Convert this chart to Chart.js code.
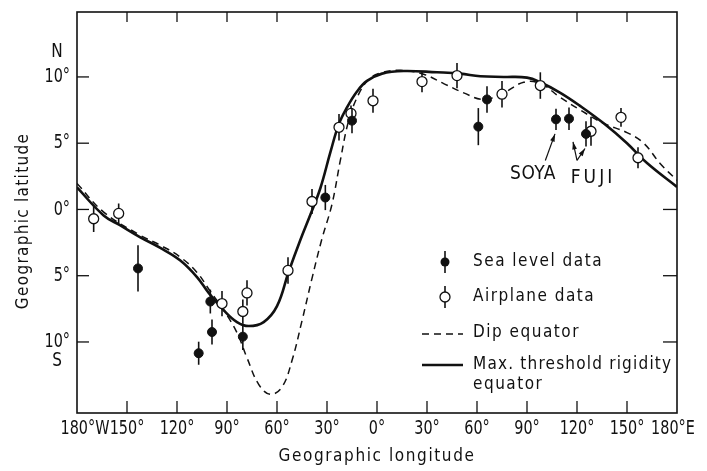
<!DOCTYPE html>
<html>
<head>
<meta charset="utf-8">
<script src="https://cdn.jsdelivr.net/npm/chart.js@4/dist/chart.umd.min.js"></script>
<style>
html, body { margin: 0; padding: 0; background: #fff; }
</style>
</head>
<body>
<canvas id="myChart" width="707" height="471"></canvas>
<script>
// longitude: west negative, east positive; latitude: north positive
const xTicks = [-180, -150, -120, -90, -60, -30, 0, 30, 60, 90, 120, 150, 180];
const xTickLabels = ['180°W', '150°', '120°', '90°', '60°', '30°', '0°', '30°', '60°', '90°', '120°', '150°', '180°E'];
const yTicks = [10, 5, 0, -5, -10];
const yTickLabels = ['10°', '5°', '0°', '5°', '10°'];

// sea level stations (filled circles)
const seaLon = [-143.4, -107, -100, -99, -80.5, -31, -15, 60.8, 66, 107.4, 115.2, 125.4];
const seaLat = [-4.45, -10.85, -6.95, -9.25, -9.6, 0.9, 6.7, 6.25, 8.3, 6.8, 6.85, 5.7];
const seaErr = [1.75, 0.87, 0.9, 0.95, 1.0, 0.95, 0.95, 1.4, 1.0, 0.8, 0.85, 0.95];

// airplane data (open circles)
const airLon = [-170, -155, -93, -80.5, -78, -53.4, -39, -22.8, -15.6, -2.4, 27, 48, 75, 98, 128.4, 146.4, 156.6];
const airLat = [-0.7, -0.3, -7.1, -7.7, -6.3, -4.6, 0.6, 6.2, 7.25, 8.2, 9.65, 10.1, 8.7, 9.35, 5.9, 6.95, 3.9];
const airErr = [1.0, 0.75, 0.95, 0.9, 0.95, 1.0, 0.95, 1.0, 0.6, 0.9, 0.8, 0.95, 1.0, 1.0, 1.1, 0.7, 0.8];

// dip equator (dashed)
const dipLon = [-180, -164, -142, -130, -118, -108, -101, -92, -84, -78, -71, -64, -57, -51, -45, -39, -33, -27, -22, -17, -11, -5, 2, 14, 28, 40, 52, 64, 76, 88, 98, 110, 122, 136, 150, 160, 170, 180];
const dipLat = [1.96, -0.2, -1.95, -2.7, -3.6, -4.75, -6.0, -7.6, -9.3, -11.2, -13.2, -13.95, -13.4, -11.4, -8.4, -5.2, -2.2, 0.4, 3.7, 6.7, 8.7, 9.8, 10.3, 10.5, 10.2, 9.5, 8.8, 8.3, 8.8, 9.6, 9.5, 8.45, 7.5, 6.5, 5.8, 5.0, 3.45, 2.2];

// max. threshold rigidity equator (solid)
const rigLon = [-180, -164, -154, -142, -130, -118, -108, -101, -92, -84, -77, -68, -60, -53, -46, -40, -34, -28, -23, -18, -12, -6, 3, 16, 36, 50, 62, 76, 90, 98, 110, 122, 136, 150, 162, 180];
const rigLat = [1.66, -0.45, -1.2, -2.1, -2.9, -3.85, -5.1, -6.3, -7.6, -8.5, -8.8, -8.5, -7.3, -4.7, -2.3, -0.4, 1.6, 4.3, 6.4, 7.7, 8.9, 9.7, 10.25, 10.45, 10.35, 10.25, 10.05, 10.0, 9.95, 9.6, 8.8, 7.8, 6.5, 5.0, 3.5, 1.7];

const INK = '#111';
const TICK_FONT = '20px "DejaVu Sans Condensed", "DejaVu Sans", sans-serif';
const TEXT_FONT = '17px "DejaVu Sans Condensed", "DejaVu Sans", sans-serif';

const toPoints = (xs, ys) => xs.map((v, i) => ({ x: v, y: ys[i] }));

function line(ctx, x1, y1, x2, y2) {
    ctx.beginPath();
    ctx.moveTo(x1, y1);
    ctx.lineTo(x2, y2);
    ctx.stroke();
}

function arrow(ctx, x1, y1, x2, y2) {
    line(ctx, x1, y1, x2, y2);
    const a = Math.atan2(y2 - y1, x2 - x1);
    ctx.beginPath();
    ctx.moveTo(x2, y2);
    ctx.lineTo(x2 - 8 * Math.cos(a - 0.3), y2 - 8 * Math.sin(a - 0.3));
    ctx.lineTo(x2 - 8 * Math.cos(a + 0.3), y2 - 8 * Math.sin(a + 0.3));
    ctx.closePath();
    ctx.fill();
}

// text with optional letter spacing and horizontal squeeze
function text(ctx, s, x, y, align, spacing, sx) {
    ctx.save();
    ctx.letterSpacing = (spacing || 0) + 'px';
    ctx.textAlign = align;
    ctx.translate(x, y);
    ctx.scale(sx || 1, 1);
    ctx.fillText(s, 0, 0);
    ctx.restore();
}

// vertical error bars, drawn under each marker set
const errorBars = {
    id: 'errorBars',
    beforeDatasetDraw(chart, args) {
        const ds = chart.data.datasets[args.index];
        if (!ds.err) return;
        const { ctx, scales: { x, y } } = chart;
        ctx.save();
        ctx.strokeStyle = INK;
        ctx.lineWidth = 1.6;
        ds.data.forEach((p, i) => {
            const px = x.getPixelForValue(p.x);
            line(ctx, px, y.getPixelForValue(p.y + ds.err[i]), px, y.getPixelForValue(p.y - ds.err[i]));
        });
        ctx.restore();
    }
};

// frame, inward ticks, labels, legend and notes
const frame = {
    id: 'frame',
    afterDraw(chart) {
        const { ctx, chartArea: a, scales: { x, y } } = chart;
        ctx.save();
        ctx.strokeStyle = INK;
        ctx.fillStyle = INK;
        ctx.lineWidth = 1.6;
        ctx.strokeRect(a.left, a.top, a.right - a.left, a.bottom - a.top);

        ctx.lineWidth = 1.3;
        xTicks.forEach(v => {
            if (v === -180 || v === 180) return;
            const px = x.getPixelForValue(v);
            line(ctx, px, a.bottom, px, a.bottom - 12);
            line(ctx, px, a.top, px, a.top + 10);
        });
        yTicks.forEach(v => {
            const py = y.getPixelForValue(v);
            line(ctx, a.left, py, a.left + 12, py);
            line(ctx, a.right, py, a.right - 14, py);
        });

        // tick labels
        ctx.font = TICK_FONT;
        ctx.textBaseline = 'middle';
        xTicks.forEach((v, i) => {
            let px = x.getPixelForValue(v);
            if (i === 0) px += 8;
            if (i === xTicks.length - 1) px -= 4;
            text(ctx, xTickLabels[i], px, a.bottom + 16, 'center', 0, 0.8);
        });
        yTicks.forEach((v, i) => {
            text(ctx, yTickLabels[i], a.left - 7, y.getPixelForValue(v), 'right', 0, 0.8);
        });
        text(ctx, 'N', a.left - 20, y.getPixelForValue(11.9), 'center', 0, 0.85);
        text(ctx, 'S', a.left - 20, y.getPixelForValue(-11.4), 'center', 0, 0.85);

        // axis titles
        ctx.font = TEXT_FONT;
        text(ctx, 'Geographic longitude', x.getPixelForValue(0), 457, 'center', 1.6);
        ctx.save();
        ctx.translate(24, 221);
        ctx.rotate(-Math.PI / 2);
        text(ctx, 'Geographic latitude', 0, 0, 'center', 1.3);
        ctx.restore();

        // legend
        const lx = 445, tx = 473;
        ctx.lineWidth = 1.6;
        line(ctx, lx, 251, lx, 273);
        ctx.beginPath(); ctx.arc(lx, 262, 4.5, 0, Math.PI * 2); ctx.fill();
        line(ctx, lx, 286, lx, 308);
        ctx.beginPath(); ctx.arc(lx, 297, 5, 0, Math.PI * 2);
        ctx.fillStyle = '#fff'; ctx.fill(); ctx.lineWidth = 1.3; ctx.stroke();
        ctx.fillStyle = INK;
        ctx.lineWidth = 1.5;
        ctx.setLineDash([7, 5]);
        line(ctx, 422, 334, 463, 334);
        ctx.setLineDash([]);
        ctx.lineWidth = 2.6;
        line(ctx, 422, 365, 463, 365);
        ctx.font = TEXT_FONT;
        text(ctx, 'Sea level data', tx, 262, 'left', 1.5);
        text(ctx, 'Airplane data', tx, 297, 'left', 1.5);
        text(ctx, 'Dip equator', tx, 333, 'left', 1.5);
        text(ctx, 'Max. threshold rigidity', tx, 365, 'left', 1.2);
        text(ctx, 'equator', tx, 385, 'left', 1.5);

        // ship labels
        ctx.font = '19px "DejaVu Sans Condensed", "DejaVu Sans", sans-serif';
        text(ctx, 'SOYA', x.getPixelForValue(93.6), y.getPixelForValue(2.7), 'center', 0.5);
        text(ctx, 'FUJI', x.getPixelForValue(129.6), y.getPixelForValue(2.35), 'center', 3);
        ctx.lineWidth = 1.2;
        arrow(ctx, x.getPixelForValue(101), y.getPixelForValue(3.7), x.getPixelForValue(106.8), y.getPixelForValue(5.7));
        arrow(ctx, x.getPixelForValue(120), y.getPixelForValue(3.7), x.getPixelForValue(117.6), y.getPixelForValue(5.1));
        arrow(ctx, x.getPixelForValue(120), y.getPixelForValue(3.7), x.getPixelForValue(124.8), y.getPixelForValue(4.6));
        ctx.restore();
    }
};

const chart = new Chart(document.getElementById('myChart').getContext('2d'), {
    type: 'scatter',
    data: {
        datasets: [
            {
                label: 'Sea level data',
                data: toPoints(seaLon, seaLat),
                err: seaErr,
                pointRadius: 4.5,
                pointBackgroundColor: INK,
                pointBorderColor: INK,
                pointBorderWidth: 1,
                order: 0
            },
            {
                label: 'Airplane data',
                data: toPoints(airLon, airLat),
                err: airErr,
                pointRadius: 5,
                pointBackgroundColor: '#fff',
                pointBorderColor: INK,
                pointBorderWidth: 1.3,
                order: 0
            },
            {
                label: 'Dip equator',
                data: toPoints(dipLon, dipLat),
                showLine: true,
                pointRadius: 0,
                borderColor: INK,
                borderWidth: 1.5,
                borderDash: [7, 5],
                tension: 0.4,
                order: 2
            },
            {
                label: 'Max. threshold rigidity equator',
                data: toPoints(rigLon, rigLat),
                showLine: true,
                pointRadius: 0,
                borderColor: INK,
                borderWidth: 2.6,
                tension: 0.4,
                order: 1
            }
        ]
    },
    options: {
        responsive: false,
        animation: false,
        devicePixelRatio: 1,
        events: [],
        layout: { padding: { left: 77, top: 12, right: 30, bottom: 58 } },
        scales: {
            x: { type: 'linear', min: -180, max: 180, display: false },
            y: { type: 'linear', min: -15.36, max: 14.9, display: false }
        },
        plugins: {
            legend: { display: false },
            tooltip: { enabled: false }
        }
    },
    plugins: [errorBars, frame]
});
</script>
</body>
</html>
